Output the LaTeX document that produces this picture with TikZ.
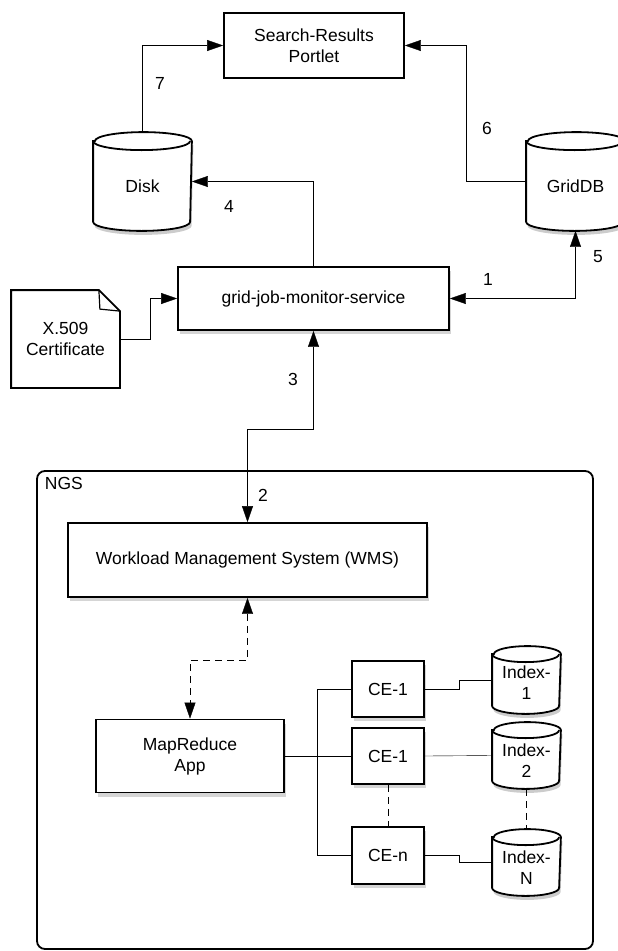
\documentclass[tikz,border=0pt]{standalone}
\usepackage{fontspec}
\setmainfont{Liberation Sans}
\usetikzlibrary{arrows.meta,shadows,backgrounds}
\newcommand\cylbody[3]{%
  \fill[gray!40] ([xshift=1.5pt,yshift=#3-4pt]#1.south west) arc[start angle=180,end angle=360,x radius=#2,y radius=#3] -- ([xshift=1.5pt,yshift=-#3-4pt]#1.north east) -- ([xshift=1.5pt,yshift=-#3-4pt]#1.north west) -- cycle;
  \draw[fill=white] ([yshift=-#3]#1.north west) -- ([yshift=#3]#1.south west) arc[start angle=180,end angle=360,x radius=#2,y radius=#3] -- ([yshift=-#3]#1.north east) arc[start angle=0,end angle=180,x radius=#2,y radius=#3] -- cycle;
  \draw ([yshift=-#3]#1.north west) arc[start angle=180,end angle=360,x radius=#2,y radius=#3];
}
\begin{document}
\begin{tikzpicture}[x=1pt,y=-1pt,line width=1.8pt,
  every node/.style={font=\fontsize{17.5}{21}\selectfont, inner sep=0pt, align=center},
  box/.style={draw, fill=white},
  sbox/.style={box, drop shadow={shadow xshift=1.5pt, shadow yshift=-4pt, fill=gray!60, opacity=0.55}},
  cylnode/.style={minimum width=#1, inner sep=0pt},
  tip/.tip={Triangle[length=16pt,width=11pt]},
  conn/.style={-tip},
  both/.style={tip-tip},
  dashline/.style={dash pattern=on 7pt off 5pt}
]
\useasboundingbox (0,0) rectangle (618,951);

% NGS container
\node[draw, rounded corners=8pt, minimum width=556pt, minimum height=478pt] (ngs) at (315,710) {};
\node[anchor=west] (ngslbl) at (44,483) {NGS};

% boxes
\node[box, minimum width=180pt, minimum height=65pt] (portlet) at (314,45.5) {Search-Results\\Portlet};
\node[sbox, minimum width=271pt, minimum height=63pt] (gjm) at (313.5,298.5) {grid-job-monitor-service};
\node[sbox, minimum width=359pt, minimum height=74pt] (wms) at (247.5,560) {Workload Management System (WMS)};
\node[sbox, minimum width=188pt, minimum height=73pt] (mr) at (190,756) {MapReduce\\App};
\node[sbox, minimum width=72pt, minimum height=56pt] (ce1) at (388,689) {CE-1};
\node[sbox, minimum width=72pt, minimum height=56pt] (ce2) at (388,756) {CE-1};
\node[sbox, minimum width=72pt, minimum height=57pt] (cen) at (388,855.5) {CE-n};

% certificate (document)
\node[minimum width=107pt, minimum height=96pt] (cert) at (65.5,339) {X.509\\Certificate};

% cylinders
\node[cylnode=97pt, minimum height=97pt] (disk) at (142.5,181.5) {};
\node[cylnode=97pt, minimum height=97pt] (griddb) at (575.5,181.5) {};
\node[cylnode=67pt, minimum height=66pt] (idx1) at (526.5,680) {};
\node[cylnode=67pt, minimum height=65pt] (idx2) at (526.5,755.5) {};
\node[cylnode=67pt, minimum height=65pt] (idxN) at (526.5,862.5) {};

\begin{pgfonlayer}{background}
\begin{scope}[line width=1.8pt, draw=black]
  \cylbody{disk}{48.5pt}{9pt}
  \cylbody{griddb}{48.5pt}{9pt}
  \cylbody{idx1}{33.5pt}{8pt}
  \cylbody{idx2}{33.5pt}{8pt}
  \cylbody{idxN}{33.5pt}{8pt}
  \draw[fill=white] (cert.north west) -- ([xshift=-21pt]cert.north east) -- ([yshift=-21pt]cert.north east) -- (cert.south east) -- (cert.south west) -- cycle;
  \draw[line width=1.2pt] ([xshift=-21pt]cert.north east) -- ([xshift=-20pt,yshift=-19pt]cert.north east) -- ([yshift=-21pt]cert.north east);
\end{scope}
\end{pgfonlayer}

\node (disktxt) at ([yshift=-5pt]disk.center) {Disk};
\node (gridtxt) at ([yshift=-5pt]griddb.center) {GridDB};
\node (idx1txt) at ([yshift=-3pt]idx1.center) {Index-\\1};
\node (idx2txt) at ([yshift=-5pt]idx2.center) {Index-\\2};
\node (idxNtxt) at ([yshift=-5pt]idxN.center) {Index-\\N};

% connectors
\draw[conn] (disk.north) |- (portlet.west);
\draw[conn] (griddb.west) -- ++(-60,0) |- (portlet.east);
\draw[conn] (gjm.north) |- (disk.east);
\draw[conn] (cert.east) -- ++(30,0) |- (gjm.west);
\draw[both] (gjm.east) -| (griddb.south);
\draw[both] (gjm.south) -- ++(0,98) -| (wms.north);
\draw[both, dashline] (wms.south) -- ++(0,62) -| (mr.north);
\draw (mr.east) -- (ce2.west);
\draw (ce1.west) -- ++(-34,0) |- (cen.west);
\draw (ce1.east) -- ++(34,0) |- (idx1.west);
\draw (ce2.east) -- (idx2.west);
\draw (cen.east) -- ++(34,0) |- (idxN.west);
\draw[dashline] (ce2.south) -- (cen.north);
\draw[dashline] (idx2.south) -- (idxN.north);

% labels
\node (l7) at (160,83) {7};
\node (l4) at (229,206) {4};
\node (l6) at (487,128) {6};
\node (l5) at (598,257) {5};
\node (l1) at (488,279) {1};
\node (l3) at (293,379) {3};
\node (l2) at (263,495) {2};
\end{tikzpicture}
\end{document}
